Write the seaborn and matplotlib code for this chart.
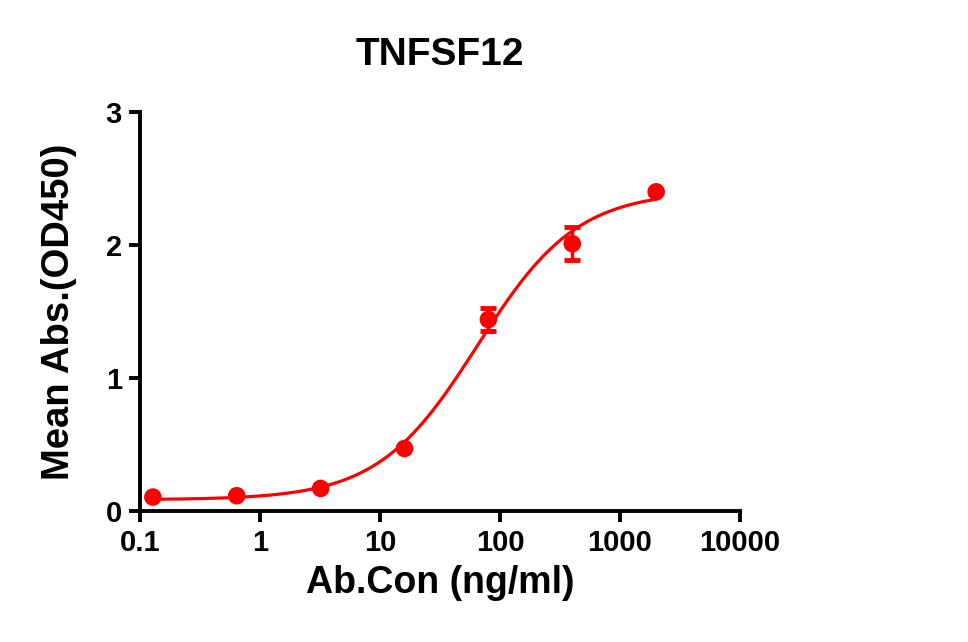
import numpy as np
import pandas as pd
import matplotlib
matplotlib.use("Agg")
import matplotlib.pyplot as plt
import seaborn as sns

# Data
conc = [0.128, 0.64, 3.2, 16, 80, 400, 2000]
od450 = [0.105, 0.115, 0.17, 0.47, 1.44, 2.01, 2.40]
err = [0.0, 0.0, 0.0, 0.0, 0.09, 0.125, 0.0]
x_ticks = [0.1, 1, 10, 100, 1000, 10000]
x_tick_labels = ["0.1", "1", "10", "100", "1000", "10000"]
y_ticks = [0, 1, 2, 3]

title = "TNFSF12"
xlabel = "Ab.Con (ng/ml)"
ylabel = "Mean Abs.(OD450)"
color = "#FF0000"


def fourpl(x, p):
    bottom, top, logec50, hill = p
    return bottom + (top - bottom) / (1.0 + 10 ** ((logec50 - np.log10(x)) * hill))


def fit_4pl(x, y):
    x = np.asarray(x, float)
    y = np.asarray(y, float)
    p = np.array([y.min(), y.max(), np.log10(60.0), 1.0])
    lam = 1e-2
    def resid(pp):
        return fourpl(x, pp) - y
    r = resid(p)
    cost = np.sum(r ** 2)
    for _ in range(500):
        J = np.zeros((len(x), 4))
        for k in range(4):
            d = np.zeros(4)
            d[k] = 1e-6 * max(1.0, abs(p[k]))
            J[:, k] = (resid(p + d) - r) / d[k]
        A = J.T @ J
        g = J.T @ r
        step = np.linalg.solve(A + lam * np.diag(np.diag(A) + 1e-12), -g)
        pn = p + step
        rn = resid(pn)
        cn = np.sum(rn ** 2)
        if cn < cost:
            p, r, cost = pn, rn, cn
            lam = max(lam / 3, 1e-9)
            if np.linalg.norm(step) < 1e-10:
                break
        else:
            lam *= 5
    return p


params = fit_4pl(conc, od450)
xs = np.logspace(np.log10(conc[0]), np.log10(conc[-1]), 300)
curve = pd.DataFrame({"x": xs, "y": fourpl(xs, params)})
pts = pd.DataFrame({"x": conc, "y": od450, "err": err})

sns.set_theme(style="ticks")
plt.rcParams["font.family"] = ["Liberation Sans", "DejaVu Sans"]
plt.rcParams["font.weight"] = "bold"

fig = plt.figure(figsize=(9.68, 6.42), dpi=100)
ax = fig.add_axes([140 / 968, (642 - 511) / 642, 600 / 968, (511 - 112) / 642])

sns.lineplot(data=curve, x="x", y="y", ax=ax, color=color, linewidth=2.3, zorder=2)
eb = pts[pts["err"] > 0]
ax.errorbar(eb["x"], eb["y"], yerr=eb["err"], fmt="none", ecolor=color,
            elinewidth=2.5, capsize=5.5, capthick=3.5, zorder=3)
sns.scatterplot(data=pts, x="x", y="y", ax=ax, color=color, s=160,
                edgecolor="none", zorder=4)

ax.set_xscale("log")
ax.set_xlim(0.1, 10000)
ax.set_ylim(0, 3)
ax.set_xticks(x_ticks)
ax.set_xticklabels(x_tick_labels)
ax.xaxis.set_minor_locator(matplotlib.ticker.NullLocator())
ax.set_yticks(y_ticks)
ax.set_yticklabels([str(v) for v in y_ticks])

for side in ["top", "right"]:
    ax.spines[side].set_visible(False)
for side in ["left", "bottom"]:
    ax.spines[side].set_linewidth(2.8)
    ax.spines[side].set_color("black")
ax.tick_params(axis="both", which="major", width=2.8, length=8, color="black",
               labelsize=21, pad=5, labelcolor="black")
for lab in ax.get_xticklabels() + ax.get_yticklabels():
    lab.set_fontweight("bold")

ax.set_xlabel(xlabel, fontsize=27, fontweight="bold", labelpad=6, color="black")
ax.set_ylabel(ylabel, fontsize=27.5, fontweight="bold", labelpad=21, color="black")
ax.set_title(title, fontsize=28, fontweight="bold", pad=34, color="black")
for c in ax.collections:
    c.set_clip_on(False)
for l in ax.lines:
    l.set_clip_on(False)

fig.savefig("out.png", dpi=100, facecolor="white")
